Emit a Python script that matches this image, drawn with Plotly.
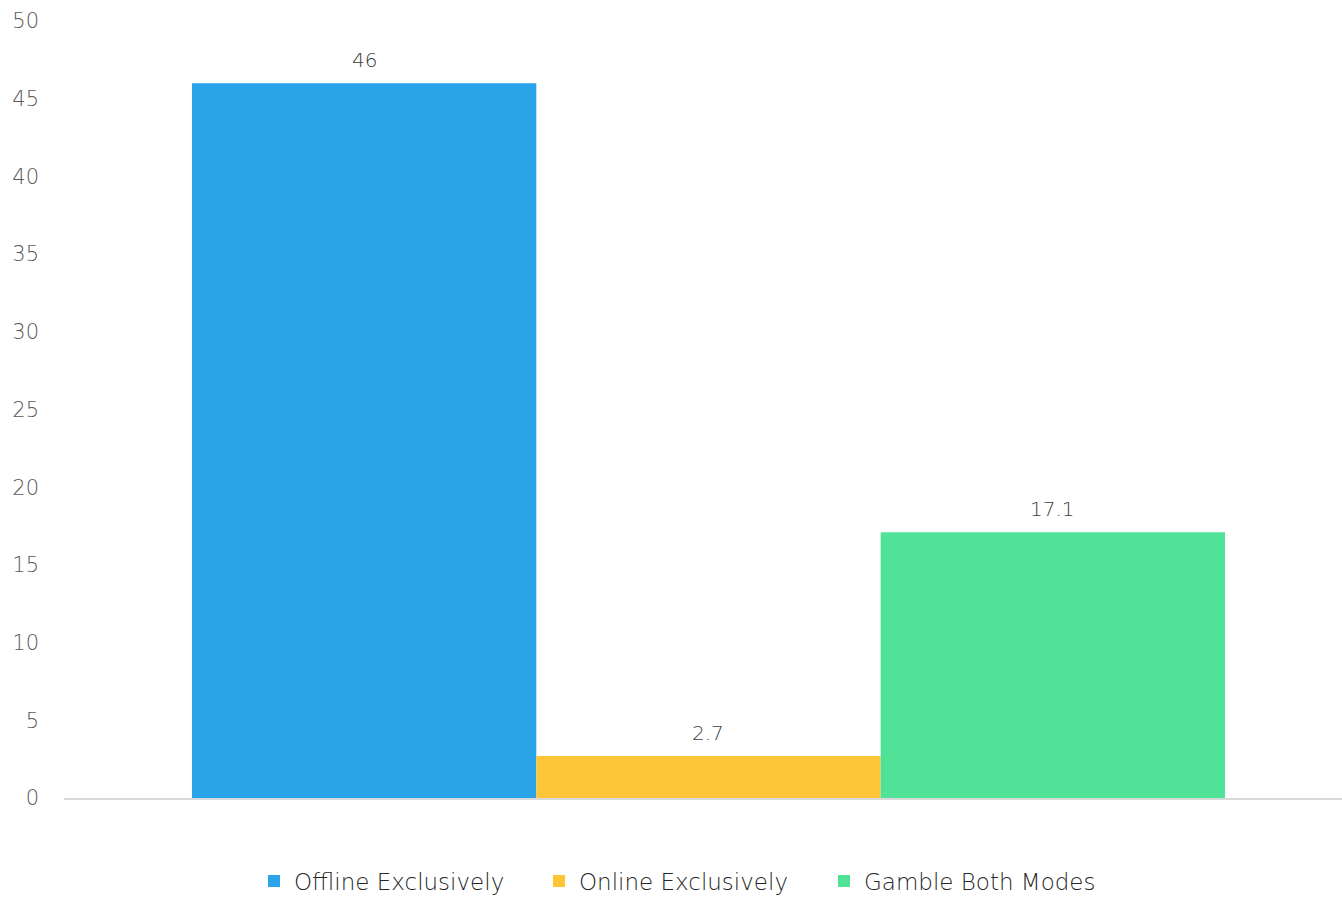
import plotly.graph_objects as go

# Share of respondents by gambling mode
categories = ["Offline Exclusively", "Online Exclusively", "Gamble Both Modes"]
values = [46, 2.7, 17.1]
colors = ["#2AA4E8", "#FDC638", "#50E398"]
labels = ["46", "2.7", "17.1"]
y_ticks = [0, 5, 10, 15, 20, 25, 30, 35, 40, 45, 50]

FONT = "'DejaVu Sans', sans-serif"

fig = go.Figure()
for name, val, col in zip(categories, values, colors):
    fig.add_trace(go.Bar(
        x=[0], y=[val], name=name,
        marker=dict(color=col, line=dict(width=0)),
        hoverinfo="name+y",
    ))

# value labels above each bar, placed at the bar's own offset in the group
n = len(values)
group_w = 0.8
bar_w = group_w / n
for i, (val, lab) in enumerate(zip(values, labels)):
    fig.add_annotation(
        x=-group_w / 2 + bar_w * (i + 0.5), y=val, text=lab,
        showarrow=False, yanchor="bottom", yshift=9,
        font=dict(family=FONT, size=20, color="#404040", weight=300),
    )

fig.update_layout(
    width=1342, height=899,
    margin=dict(l=64, r=0, t=21, b=101),
    barmode="group", bargap=1 - group_w, bargroupgap=0,
    plot_bgcolor="white", paper_bgcolor="white",
    font=dict(family=FONT, color="#595959"),
    showlegend=True,
    legend=dict(
        orientation="h", xref="container", x=254 / 1342, xanchor="left",
        yref="container", y=(899 - 881) / 899, yanchor="middle",
        font=dict(family=FONT, size=23, color="#262626", weight=300),
        itemwidth=30, traceorder="normal", entrywidth=240,
    ),
    xaxis=dict(
        range=[-0.4991, 0.4906], showticklabels=False, showgrid=False,
        zeroline=False, showline=True, linecolor="#D9D9D9", linewidth=1.5,
        ticks="",
    ),
    yaxis=dict(
        range=[0, 50], tickvals=y_ticks, showgrid=False, zeroline=False,
        showline=False, ticks="", ticklabelstandoff=24,
        tickfont=dict(family=FONT, size=21, color="#595959", weight=300),
    ),
)

fig.write_html("out.html")
